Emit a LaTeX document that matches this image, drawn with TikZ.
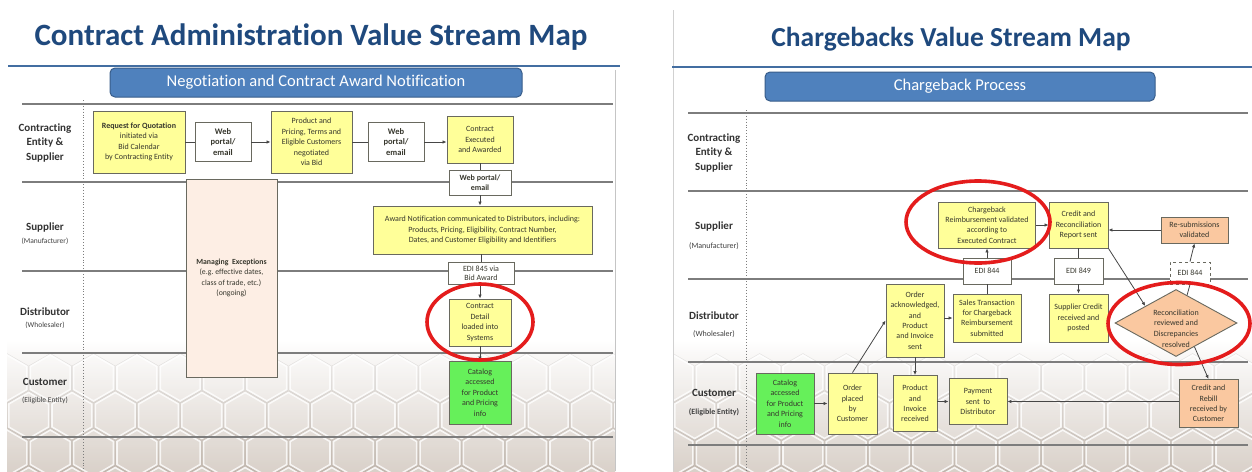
\documentclass[tikz,border=0pt]{standalone}
\usepackage{fontspec}
\setmainfont{Carlito}[Ligatures=NoCommon]
\usetikzlibrary{shapes.geometric,arrows.meta,calc}
\definecolor{titleblue}{RGB}{31,73,125}
\definecolor{bannerblue}{RGB}{79,129,189}
\definecolor{bannerdark}{RGB}{56,93,138}
\definecolor{boxyellow}{RGB}{255,255,153}
\definecolor{boxborder}{RGB}{105,105,95}
\definecolor{boxgreen}{RGB}{102,240,90}
\definecolor{boxpink}{RGB}{253,238,228}
\definecolor{boxorange}{RGB}{250,200,160}
\definecolor{lanegray}{RGB}{125,125,125}
\definecolor{ringred}{RGB}{228,28,28}
\definecolor{txt}{RGB}{55,55,45}
\definecolor{beige}{RGB}{205,194,184}
\definecolor{conncol}{RGB}{70,70,70}
\tikzset{
  sz/.style n args={2}{minimum width=#1pt,minimum height=#2pt},
  box/.style={draw=boxborder, line width=0.9pt, align=center, inner sep=1pt, text=txt,
              font=\fontsize{8}{10.4}\selectfont},
  ybox/.style={box, fill=boxyellow},
  wbox/.style={box, fill=white},
  webbox/.style={box, fill=white, font=\fontsize{8.5}{10.5}\selectfont\bfseries},
  gbox/.style={box, fill=boxgreen},
  pbox/.style={box, fill=boxpink},
  obox/.style={box, fill=boxorange},
  rbox/.style={box, font=\fontsize{8}{10.4}\selectfont},
  conn/.style={draw=conncol, line width=0.8pt},
  arr/.style={-{Latex[length=4pt,width=3.5pt]}},
  lane/.style={draw=lanegray, line width=1.3pt},
  dotline/.style={draw=lanegray, line width=0.9pt, dotted},
  lanelbl/.style={align=center, text=black!80, font=\fontsize{11}{14.5}\selectfont\bfseries, inner sep=0pt},
  lanesub/.style={align=center, text=black!75, font=\fontsize{7.5}{9}\selectfont, inner sep=0pt},
  title/.style={text=titleblue, font=\fontsize{31}{34}\selectfont\bfseries, inner sep=0pt},
  banner/.style={draw=bannerdark, fill=bannerblue, line width=1pt, rounded corners=5pt, text=white,
                 font=\fontsize{16.5}{18}\selectfont, inner sep=0pt},
  ring/.style={draw=ringred, line width=3.6pt},
  hexcell/.style={draw=white, line width=1.6pt, fill=white, fill opacity=0.25, draw opacity=0.8},
  hexedge/.style={draw=black, line width=0.6pt, draw opacity=0.07},
}
\newcommand{\hexfield}[3]{%
  \begin{scope}
    \clip (#1,340) rectangle (#2,471);
    \shade[top color=white, bottom color=beige] (#1,340) rectangle (#2,471);
    \foreach \r in {0,...,4}{
      \foreach \c in {0,...,#3}{
        \pgfmathsetmacro\hx{#1+\c*43.3+mod(\r,2)*21.65}
        \pgfmathsetmacro\hy{378+\r*37.5}
        \draw[hexcell] (\hx,\hy) +(90:23) -- +(150:23) -- +(210:23) -- +(270:23) -- +(330:23) -- +(30:23) -- cycle;
        \draw[hexedge] (\hx,\hy) +(90:24.5) -- +(150:24.5) -- +(210:24.5) -- +(270:24.5) -- +(330:24.5) -- +(30:24.5) -- cycle;
      }
    }
  \end{scope}}
\begin{document}
\begin{tikzpicture}[x=1pt, y=-1pt]
\useasboundingbox[fill=white] (0,0) rectangle (1252,471);

% ---------- backgrounds ----------
\hexfield{7}{615}{14}
\hexfield{673}{1252}{14}
\draw[draw=lanegray!45, line width=0.8pt] (615,70) -- (615,471);
\draw[draw=lanegray!35, line width=0.8pt] (673,10) -- (673,471);

% ================= LEFT PANEL =================
\node[title] (t1) at (311,37) {Contract Administration Value Stream Map};
\draw[draw=bannerblue!85!black, line width=2pt] (8,66) -- (620,66);

\foreach \yy in {104,182,271,353,437}{ \draw[lane] (22,\yy) -- (613,\yy); }
\draw[dotline] (83,100) -- (83,471);

\node[banner, sz={412}{29}] (b1) at (316,82.5) {Negotiation and Contract Award Notification};

\node[lanelbl] (la1) at (45,143) {Contracting\\Entity \&\\Supplier};
\node[lanelbl] (la2) at (45,228) {Supplier};
\node[lanesub] (la2s) at (45,241) {(Manufacturer)};
\node[lanelbl] (la3) at (45,312) {Distributor};
\node[lanesub] (la3s) at (45,325) {(Wholesaler)};
\node[lanelbl] (la4) at (45,382) {Customer};
\node[lanesub] (la4s) at (45,400) {(Eligible Entity)};

\node[pbox, sz={91}{198}, font=\fontsize{7.8}{10.2}\selectfont] (mng) at (231.5,278) {\textbf{Managing\ \ Exceptions}\\(e.g.\ effective dates,\\class of trade, etc.)\\(ongoing)};

\node[ybox, sz={92}{62}] (rfq) at (139,142) {\textbf{Request for Quotation}\\initiated via\\Bid Calendar\\by Contracting Entity};
\node[webbox, sz={56}{39}] (web1) at (223,142) {Web\\portal/\\email};
\node[ybox, sz={81}{62}] (prod) at (311.5,142) {Product and\\Pricing, Terms and\\Eligible Customers\\negotiated\\via Bid};
\node[webbox, sz={56}{39}] (web2) at (396,142) {Web\\portal/\\email};
\node[ybox, sz={66}{47}] (contr) at (480,139.5) {Contract\\Executed\\and Awarded};
\node[webbox, sz={62}{25}, font=\fontsize{8}{9.5}\selectfont\bfseries] (web3) at (480,182.5) {Web portal/\\email};
\node[ybox, sz={219}{48}] (award) at (482.5,230) {Award Notification communicated to Distributors, including:\\Products, Pricing, Eligibility, Contract Number,\\Dates, and Customer Eligibility and Identifiers};
\node[wbox, sz={66}{22}, font=\fontsize{8}{9}\selectfont] (edi845) at (481,273) {EDI 845 via\\Bid Award};
\node[ybox, sz={62}{47}] (detail) at (480,322.5) {Contract\\Detail\\loaded into\\Systems};
\node[gbox, sz={62}{63}] (cat1) at (480,392.5) {Catalog\\accessed\\for Product\\and Pricing\\info};

\draw[conn] (rfq) -- (web1);
\draw[conn,arr] (web1) -- (prod);
\draw[conn] (prod) -- (web2);
\draw[conn,arr] (web2.east) -- (web2.east -| contr.west);
\draw[conn] (contr) -- (web3);
\draw[conn,arr] (web3.south) -- (web3.south |- award.north);
\draw[conn] (award.south -| edi845) -- (edi845.north);
\draw[conn,arr] (edi845.south -| detail) -- (detail.north);
\draw[conn,arr] (detail) -- (cat1);

\draw[ring] (480,322) ellipse [x radius=53, y radius=38];

% ================= RIGHT PANEL =================
\node[title, font=\fontsize{27.5}{31}\selectfont\bfseries] (t2) at (951,39) {Chargebacks Value Stream Map};
\draw[draw=bannerblue!85!black, line width=2pt] (672,67) -- (1252,67);

\foreach \yy in {113,191,279,362,445}{ \draw[lane] (688,\yy) -- (1248,\yy); }
\draw[dotline] (746,110) -- (746,471);

\node[banner, sz={390}{29}] (b2) at (960,86.5) {Chargeback Process};

\node[lanelbl] (lb1) at (714,153) {Contracting\\Entity \&\\Supplier};
\node[lanelbl] (lb2) at (714,227) {Supplier};
\node[lanesub, font=\fontsize{8}{9}\selectfont] (lb2s) at (714,246) {(Manufacturer)};
\node[lanelbl] (lb3) at (714,316) {Distributor};
\node[lanesub, font=\fontsize{8}{9}\selectfont] (lb3s) at (714,334) {(Wholesaler)};
\node[lanelbl] (lb4) at (714,393) {Customer};
\node[lanesub, font=\fontsize{8}{9}\selectfont\bfseries] (lb4s) at (714,412) {(Eligible Entity)};

\node[rbox, fill=boxgreen, sz={58}{61}] (cat2) at (785,403.5) {Catalog\\accessed\\for Product\\and Pricing\\info};
\node[rbox, fill=boxyellow, sz={49}{61}] (oplace) at (852.5,403.5) {Order\\placed\\by\\Customer};
\node[rbox, fill=boxyellow, sz={58}{73}] (oack) at (915,320.5) {Order\\acknowledged,\\and\\Product\\and Invoice\\sent};
\node[rbox, fill=boxyellow, sz={44}{56}] (prec) at (915,403.5) {Product\\and\\Invoice\\received};
\node[rbox, fill=boxyellow, sz={58}{46}] (pay) at (978,401.5) {Payment\\sent\ \ to\\Distributor};
\node[rbox, fill=boxyellow, sz={68}{48}] (sales) at (987,318) {Sales Transaction\\for Chargeback\\Reimbursement\\submitted};
\node[rbox, fill=white, sz={48}{26}] (edi844a) at (987,271) {EDI 844};
\node[rbox, fill=boxyellow, sz={97}{46}] (cbval) at (987,225) {Chargeback\\Reimbursement validated\\according to\\Executed Contract};
\node[rbox, fill=boxyellow, sz={59}{46}] (credrec) at (1078.5,225) {Credit and\\Reconciliation\\Report sent};
\node[rbox, fill=white, sz={49}{26}] (edi849) at (1078.5,271) {EDI 849};
\node[rbox, fill=boxyellow, sz={59}{48}] (supcred) at (1078.5,318) {Supplier Credit\\received and\\posted};
\node[rbox, fill=boxorange, sz={67}{26}] (resub) at (1194.5,230) {Re-submissions\\validated};
\node[rbox, fill=white, dashed, sz={40}{22}] (edi844b) at (1190,273) {EDI 844};
\node[draw=boxborder, line width=0.9pt, fill=boxorange, diamond, inner sep=0pt, sz={122}{67}] (dia) at (1176,323) {};
\node[align=center, text=txt, font=\fontsize{8}{10.6}\selectfont, inner sep=0pt] (diatxt) at (1176,328.5) {Reconciliation\\reviewed and\\Discrepancies\\resolved};
\node[rbox, fill=boxorange, sz={59}{48}] (rebill) at (1208.5,403.5) {Credit and\\Rebill\\received by\\Customer};

\draw[conn,arr] (cat2) -- (oplace);
\draw[conn,arr] (oplace.north) -- (oack.west);
\draw[conn,arr] (oack.south) -- (prec.north);
\draw[conn,arr] (oack.east |- sales.west) -- (sales.west);
\draw[conn,arr] (prec.east |- pay.east) -- (pay.west);
\draw[conn] (sales.north) -- (edi844a.south);
\draw[conn,arr] (edi844a.north) -- (cbval.south);
\draw[conn,arr] (cbval) -- (credrec);
\draw[conn] (credrec.south) -- (edi849.north);
\draw[conn,arr] (edi849.south) -- (supcred.north);
\draw[conn,arr] (credrec.south east) -- (dia.north west);
\draw[conn,arr] (resub.west) -- (resub.west -| credrec.east);
\draw[conn] ($(dia.north)!0.18!(dia.east)$) -- (edi844b.south);
\draw[conn,arr] (edi844b.north) -- (resub.south);
\draw[conn,arr] ($(dia.south)!0.3!(dia.east)$) -- (rebill.north);
\draw[conn,arr] (rebill.west |- pay.east) -- (pay.east);

\draw[ring] (978,222) ellipse [x radius=72, y radius=41];
\draw[ring] (1179,323.5) ellipse [x radius=71, y radius=41];
\end{tikzpicture}
\end{document}
